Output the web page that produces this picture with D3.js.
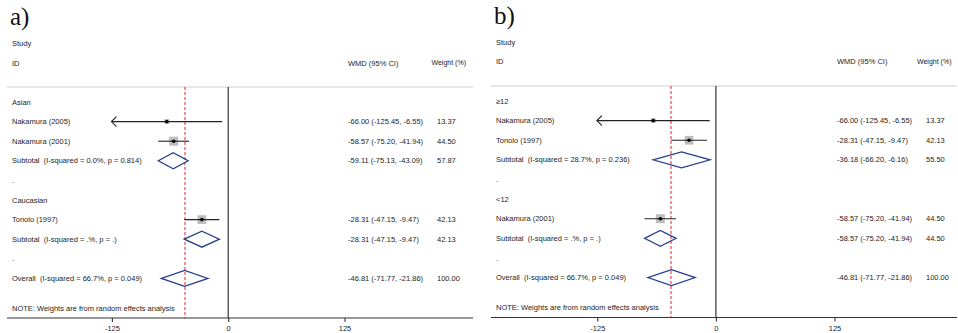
<!DOCTYPE html>
<html>
<head>
<meta charset="utf-8">
<script src="https://cdn.jsdelivr.net/npm/d3@7"></script>
<style>
  html, body { margin: 0; padding: 0; background: #fff; }
  svg { display: block; }
  text { font-family: "Liberation Sans", Arial, sans-serif; fill: #1e1e1e; white-space: pre; }
</style>
</head>
<body>
<svg id="chart" width="958" height="333"></svg>
<script>
// ---- Panel a): subgroups by ethnicity ----
const labelsA = ["Asian", "Nakamura (2005)", "Nakamura (2001)", "Subtotal  (I-squared = 0.0%, p = 0.814)", ".",
                 "Caucasian", "Tonolo (1997)", "Subtotal  (I-squared = .%, p = .)", ".",
                 "Overall  (I-squared = 66.7%, p = 0.049)"];
const kindsA  = ["group", "study", "study", "subtotal", "blank", "group", "study", "subtotal", "blank", "overall"];
const estA    = [null, -66.00, -58.57, -59.11, null, null, -28.31, -28.31, null, -46.81];
const lowA    = [null, -125.45, -75.20, -75.13, null, null, -47.15, -47.15, null, -71.77];
const highA   = [null, -6.55, -41.94, -43.09, null, null, -9.47, -9.47, null, -21.86];
const weightA = [null, 13.37, 44.50, 57.87, null, null, 42.13, 42.13, null, 100.00];

// ---- Panel b): subgroups by duration ----
const labelsB = ["\u226512", "Nakamura (2005)", "Tonolo (1997)", "Subtotal  (I-squared = 28.7%, p = 0.236)", ".",
                 "<12", "Nakamura (2001)", "Subtotal  (I-squared = .%, p = .)", ".",
                 "Overall  (I-squared = 66.7%, p = 0.049)"];
const kindsB  = ["group", "study", "study", "subtotal", "blank", "group", "study", "subtotal", "blank", "overall"];
const estB    = [null, -66.00, -28.31, -36.18, null, null, -58.57, -58.57, null, -46.81];
const lowB    = [null, -125.45, -47.15, -66.20, null, null, -75.20, -75.20, null, -71.77];
const highB   = [null, -6.55, -9.47, -6.16, null, null, -41.94, -41.94, null, -21.86];
const weightB = [null, 13.37, 42.13, 55.50, null, null, 44.50, 44.50, null, 100.00];

// Shared axis ticks and header texts
const tickValues = [-125, 0, 125];
const tickLabels = ["-125", "0", "125"];
const headStudy = "Study";
const headId = "ID";
const headEffect = "WMD (95% CI)";
const headWeight = "Weight (%)";
const noteText = "NOTE: Weights are from random effects analysis";
const overallLineValue = -46.81;
const axisLimit = -125; // CIs beyond this are drawn with an arrow

const svg = d3.select("#chart");

function drawPanel(p) {
  const g = svg.append("g");
  const n = p.labels.length;

  const x = d3.scaleLinear().domain([-125, 125]).range([p.xNeg, p.xPos]);
  const y = d3.scaleLinear().domain([0, n - 1]).range([p.yFirst, p.yLast]);
  const side = d3.scaleSqrt().domain([0, 44.5]).range([0, 9]);

  // panel letter
  g.append("text").attr("x", p.letterX).attr("y", p.letterY)
    .style("font-family", "'Liberation Serif', 'Times New Roman', serif")
    .style("font-size", "25px").style("fill", "#111")
    .text(p.letter);

  // header texts
  g.append("text").attr("x", p.labelX).attr("y", p.studyY).attr("dy", "0.35em")
    .style("font-size", "7.5px").text(headStudy);
  g.append("text").attr("x", p.labelX).attr("y", p.idY).attr("dy", "0.35em")
    .style("font-size", "7.5px").text(headId);
  g.append("text").attr("x", p.effectX).attr("y", p.idY).attr("dy", "0.35em")
    .style("font-size", "7.5px").text(headEffect);
  g.append("text").attr("x", p.weightHeadX).attr("y", p.idY).attr("dy", "0.35em")
    .style("font-size", "7px").text(headWeight);

  // header rule
  g.append("line").attr("x1", p.axisX1).attr("x2", p.axisX2)
    .attr("y1", p.ruleY).attr("y2", p.ruleY)
    .style("stroke", "#cfcfcf").style("stroke-width", 1);

  // null line and overall effect (dashed)
  g.append("line").attr("x1", x(0)).attr("x2", x(0))
    .attr("y1", p.ruleY).attr("y2", p.axisY)
    .style("stroke", "#333").style("stroke-width", 1.2);
  // centre the dashed line on a pixel pair so its red stays visible
  const xo = 2 * Math.round((x(overallLineValue) - 1) / 2) + 1;
  g.append("line").attr("x1", xo).attr("x2", xo)
    .attr("y1", p.ruleY).attr("y2", p.axisY)
    .style("stroke", "#e43845").style("stroke-width", 1.1).style("stroke-dasharray", "3,2");

  // axis
  g.append("line").attr("x1", p.axisX1).attr("x2", p.axisX2)
    .attr("y1", p.axisY).attr("y2", p.axisY)
    .style("stroke", "#333").style("stroke-width", 1.1);
  const axis = d3.axisBottom(x).tickValues(tickValues)
    .tickFormat((d, i) => tickLabels[i]).tickSize(4).tickPadding(4);
  const ax = g.append("g").attr("transform", `translate(0,${p.axisY})`).call(axis);
  ax.select(".domain").remove();
  ax.selectAll(".tick line").style("stroke", "#333").style("stroke-width", 1.1);
  ax.selectAll(".tick text").style("font-size", "7.5px")
    .style("font-family", "'Liberation Sans', Arial, sans-serif").style("fill", "#1e1e1e");

  // rows
  const rows = d3.range(n).map(i => ({
    i, label: p.labels[i], kind: p.kinds[i], est: p.est[i], lo: p.low[i], hi: p.high[i], w: p.weight[i]
  }));

  g.selectAll("text.row").data(rows).join("text")
    .attr("class", "row")
    .attr("x", p.labelX).attr("y", d => y(d.i)).attr("dy", "0.35em")
    .style("font-size", "7.5px")
    .text(d => d.label);

  const withEst = rows.filter(d => d.est !== null);

  g.selectAll("text.eff").data(withEst).join("text")
    .attr("class", "eff")
    .attr("x", p.effectX).attr("y", d => y(d.i)).attr("dy", "0.35em")
    .style("font-size", "7.5px")
    .text(d => `${d.est.toFixed(2)} (${d.lo.toFixed(2)}, ${d.hi.toFixed(2)})`);

  g.selectAll("text.wt").data(withEst).join("text")
    .attr("class", "wt")
    .attr("x", p.weightX).attr("y", d => y(d.i)).attr("dy", "0.35em")
    .style("font-size", "7.5px")
    .text(d => d.w.toFixed(2));

  // individual studies
  const studies = withEst.filter(d => d.kind === "study");
  studies.forEach(d => {
    const yy = y(d.i);
    const s = side(d.w);
    g.append("rect").attr("x", x(d.est) - s / 2).attr("y", yy - s / 2)
      .attr("width", s).attr("height", s).style("fill", "#bdbdbd");
    g.append("line").attr("x1", x(d.lo)).attr("x2", x(d.hi))
      .attr("y1", yy).attr("y2", yy)
      .style("stroke", "#222").style("stroke-width", 1.1);
    if (d.lo < axisLimit) {
      const tx = x(d.lo);
      g.append("path")
        .attr("d", `M${tx + 5},${yy - 5}L${tx},${yy}L${tx + 5},${yy + 5}`)
        .style("fill", "none").style("stroke", "#222").style("stroke-width", 1.1);
    }
    g.append("circle").attr("cx", x(d.est)).attr("cy", yy).attr("r", 1.8).style("fill", "#000");
  });

  // pooled estimates as diamonds
  const pooled = withEst.filter(d => d.kind === "subtotal" || d.kind === "overall");
  g.selectAll("path.diamond").data(pooled).join("path")
    .attr("class", "diamond")
    .attr("d", d => {
      const yy = y(d.i), h = 8;
      return `M${x(d.lo)},${yy}L${x(d.est)},${yy - h}L${x(d.hi)},${yy}L${x(d.est)},${yy + h}Z`;
    })
    .style("fill", "none").style("stroke", "#27408b").style("stroke-width", 1.3);

  // footnote
  g.append("text").attr("x", p.labelX).attr("y", p.noteY).attr("dy", "0.35em")
    .style("font-size", "7.5px").text(noteText);
}

drawPanel({
  letter: "a)", letterX: 10, letterY: 25,
  labels: labelsA, kinds: kindsA, est: estA, low: lowA, high: highA, weight: weightA,
  xNeg: 111.9, xPos: 344.5,
  yFirst: 102, yLast: 278.4,
  labelX: 12, effectX: 348, weightX: 437, weightHeadX: 431.5,
  studyY: 43, idY: 63, ruleY: 87, axisY: 318, noteY: 308,
  axisX1: 7, axisX2: 473
});

drawPanel({
  letter: "b)", letterX: 494, letterY: 24,
  labels: labelsB, kinds: kindsB, est: estB, low: lowB, high: highB, weight: weightB,
  xNeg: 597.3, xPos: 834.5,
  yFirst: 101, yLast: 277.6,
  labelX: 496, effectX: 837, weightX: 926, weightHeadX: 917,
  studyY: 42, idY: 61.5, ruleY: 86, axisY: 317.5, noteY: 307.5,
  axisX1: 491, axisX2: 957
});
</script>
</body>
</html>
